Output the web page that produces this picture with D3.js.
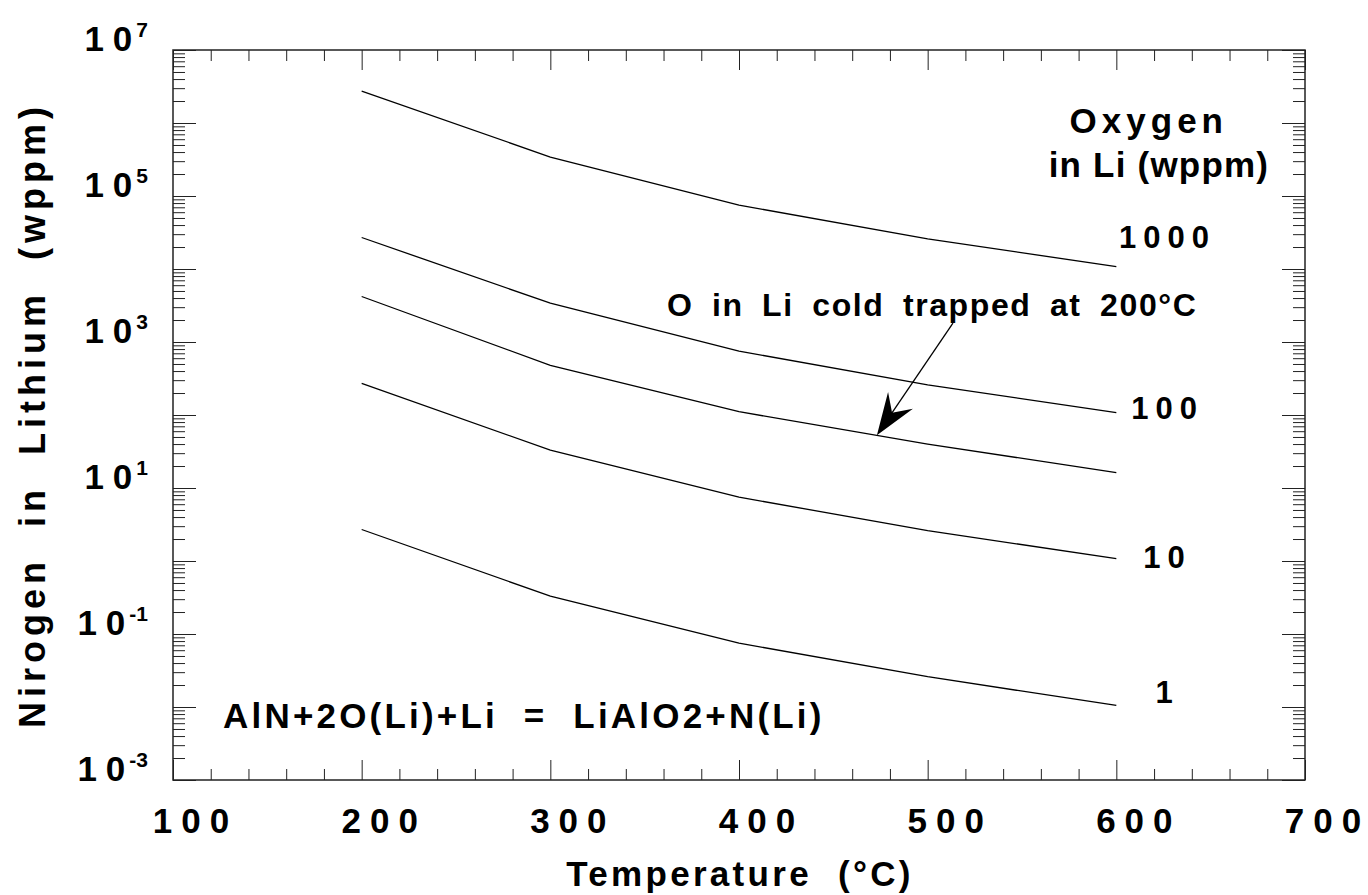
<!DOCTYPE html>
<html><head><meta charset="utf-8">
<script src="https://cdn.jsdelivr.net/npm/d3@7"></script>
<style>
html,body{margin:0;padding:0;background:#fff;}
svg{display:block;}
text{font-family:"Liberation Sans",Arial,Helvetica,sans-serif;font-weight:bold;fill:#000;white-space:pre;}
</style></head><body>
<svg id="chart" width="1368" height="895"></svg>
<script>
// ---- data ----
const temperatures = [200, 300, 400, 500, 600];
const nitrogenO1000 = [2.74e6, 3.42e5, 7.5e4, 2.58e4, 1.08e4];
const nitrogenO100  = [2.7e4, 3.4e3, 750, 258, 108];
const nitrogenO10   = [272, 33, 7.5, 2.6, 1.08];
const nitrogenO1    = [2.7, 0.33, 0.075, 0.026, 0.0105];
const nitrogenColdTrap200 = [4200, 480, 111, 40, 16.2];
const oxygenLabels = ["1000", "100", "10", "1"];
const xTickValues = [100, 200, 300, 400, 500, 600, 700];
const yLabelExponents = [7, 5, 3, 1, -1, -3];

// ---- layout ----
const L = 173, R = 1305, T = 50, B = 780;
const svg = d3.select("#chart");
const x = d3.scaleLinear().domain([100, 700]).range([L, R]);
const y = d3.scaleLog().domain([1e-3, 1e7]).range([B, T]);

const decades = d3.range(-3, 8).map(e => Math.pow(10, e));
const yMinor = [];
for (let e = -3; e < 7; e++) for (let m = 2; m <= 9; m++) yMinor.push(m * Math.pow(10, e));
const xMinor = d3.range(100, 701, 20).filter(v => v % 100 !== 0);

// spacing between characters without trailing space
const spacedDx = (s, sp) => Array.from(String(s)).map((c, i) => i === 0 ? 0 : sp).join(" ");

function styleAxis(g) {
  g.select(".domain").remove();
  g.selectAll(".tick line").attr("stroke", "#222").attr("stroke-width", 1);
  g.selectAll(".tick text").remove();
}
svg.append("g").attr("transform", `translate(0,${B})`).call(d3.axisBottom(x).tickValues(xTickValues).tickSize(-20).tickFormat("")).call(styleAxis);
svg.append("g").attr("transform", `translate(0,${B})`).call(d3.axisBottom(x).tickValues(xMinor).tickSize(-11).tickFormat("")).call(styleAxis);
svg.append("g").attr("transform", `translate(0,${T})`).call(d3.axisTop(x).tickValues(xTickValues).tickSize(-20).tickFormat("")).call(styleAxis);
svg.append("g").attr("transform", `translate(0,${T})`).call(d3.axisTop(x).tickValues(xMinor).tickSize(-11).tickFormat("")).call(styleAxis);
svg.append("g").attr("transform", `translate(${L},0)`).call(d3.axisLeft(y).tickValues(decades).tickSize(-23).tickFormat("")).call(styleAxis);
svg.append("g").attr("transform", `translate(${L},0)`).call(d3.axisLeft(y).tickValues(yMinor).tickSize(-12).tickFormat("")).call(styleAxis);
svg.append("g").attr("transform", `translate(${R},0)`).call(d3.axisRight(y).tickValues(decades).tickSize(-23).tickFormat("")).call(styleAxis);
svg.append("g").attr("transform", `translate(${R},0)`).call(d3.axisRight(y).tickValues(yMinor).tickSize(-12).tickFormat("")).call(styleAxis);

svg.append("rect").attr("x", L).attr("y", T).attr("width", R - L).attr("height", B - T)
  .attr("fill", "none").attr("stroke", "#222").attr("stroke-width", 1.5);

// ---- x tick labels ----
svg.append("g").selectAll("text").data(xTickValues).join("text")
  .attr("x", d => x(d) + 18).attr("y", 833)
  .attr("text-anchor", "middle").attr("font-size", 35)
  .attr("dx", d => spacedDx(d, 9))
  .text(d => d);

// ---- y tick labels (10 with superscript exponent) ----
const yl = svg.append("g").selectAll("text").data(yLabelExponents).join("text")
  .attr("x", 148).attr("y", e => y(Math.pow(10, e)) + 1).attr("text-anchor", "end");
yl.append("tspan").attr("font-size", 35).attr("dx", spacedDx("10", 9)).text("10");
yl.append("tspan").attr("font-size", 21).attr("dx", 4).attr("dy", -14).text(e => e);

// ---- axis titles ----
svg.append("text").attr("x", 740).attr("y", 886).attr("text-anchor", "middle")
  .attr("font-size", 35).attr("letter-spacing", 3.3).text("Temperature  (°C)");
svg.append("text").attr("transform", "translate(45,415) rotate(-90)").attr("text-anchor", "middle")
  .attr("font-size", 36).attr("letter-spacing", 5).text("Nirogen  in  Lithium  (wppm)");

// ---- curves ----
const line = d3.line().x((d, i) => x(temperatures[i])).y(d => y(d));
const series = [nitrogenO1000, nitrogenO100, nitrogenColdTrap200, nitrogenO10, nitrogenO1];
svg.append("g").selectAll("path").data(series).join("path")
  .attr("d", line).attr("fill", "none").attr("stroke", "#000").attr("stroke-width", 1.3);

// ---- curve labels ----
const labelBaselines = [248, 419, 568, 703];
svg.append("g").selectAll("text").data(oxygenLabels).join("text")
  .attr("x", 1164).attr("y", (d, i) => labelBaselines[i])
  .attr("text-anchor", "middle").attr("font-size", 31)
  .attr("dx", d => spacedDx(d, 7))
  .text(d => d);

// ---- legend title ----
svg.append("text").attr("x", 1223).attr("y", 133).attr("text-anchor", "end")
  .attr("font-size", 35).attr("dx", spacedDx("Oxygen", 5)).text("Oxygen");
svg.append("text").attr("x", 1268).attr("y", 177).attr("text-anchor", "end")
  .attr("font-size", 35).attr("dx", spacedDx("in Li (wppm)", 1.2)).text("in Li (wppm)");

// ---- reaction ----
svg.append("text").attr("x", 223).attr("y", 728).attr("font-size", 35).attr("letter-spacing", 3.2)
  .text("AlN+2O(Li)+Li  =  LiAlO2+N(Li)");

// ---- annotation with arrow ----
svg.append("text").attr("x", 667).attr("y", 316).attr("font-size", 32).attr("letter-spacing", 1.6)
  .attr("word-spacing", 8).text("O in Li cold trapped at 200°C");
const tail = [x(513.4), y(1820)], tip = [x(473.1), y(53)];
const ddx = tail[0] - tip[0], ddy = tail[1] - tip[1], len = Math.hypot(ddx, ddy);
const ux = ddx / len, uy = ddy / len, px = -uy, py = ux;
svg.append("line").attr("x1", tail[0]).attr("y1", tail[1])
  .attr("x2", tip[0] + ux * 25).attr("y2", tip[1] + uy * 25)
  .attr("stroke", "#000").attr("stroke-width", 1.3);
const head = [
  tip,
  [tip[0] + ux * 42 + px * 15, tip[1] + uy * 42 + py * 15],
  [tip[0] + ux * 27, tip[1] + uy * 27],
  [tip[0] + ux * 42 - px * 15, tip[1] + uy * 42 - py * 15]
];
svg.append("polygon").attr("points", head.map(p => p.join(",")).join(" ")).attr("fill", "#000");
</script>
</body></html>
